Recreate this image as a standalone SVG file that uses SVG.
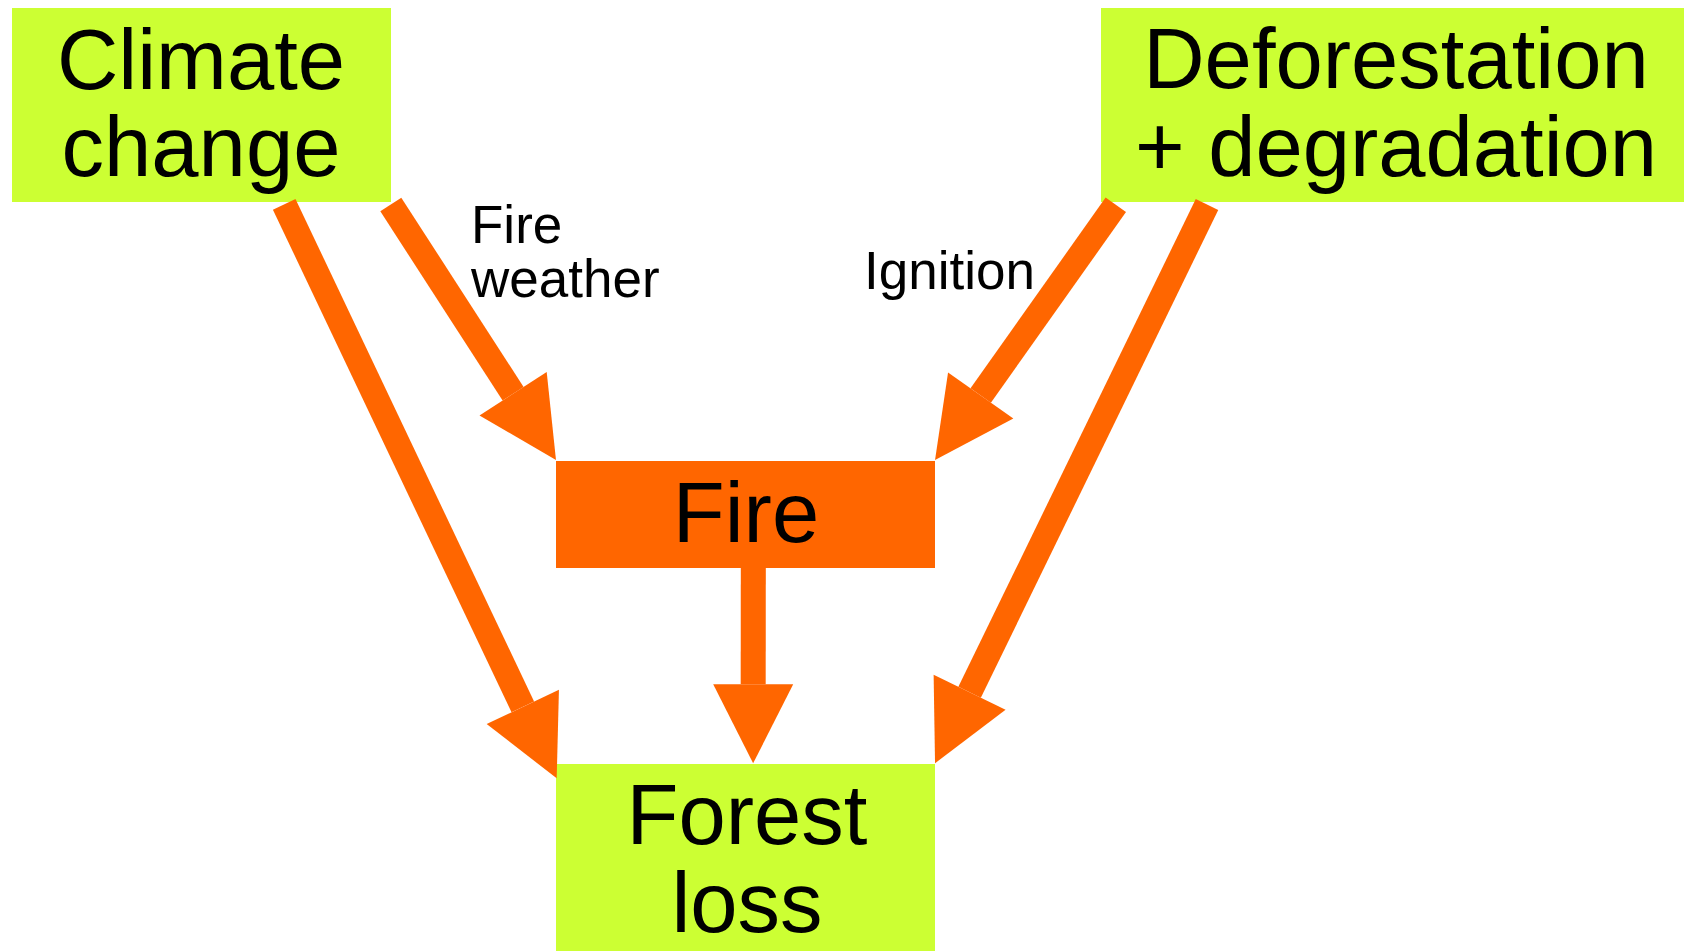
<svg xmlns="http://www.w3.org/2000/svg" width="1684" height="951" viewBox="0 0 1684 951">
<style>
.green{fill:#CCFF33}
.orange{fill:#FF6600}
.big{font-family:"Liberation Sans",Arial,sans-serif;font-size:85px;fill:#000;text-anchor:middle}
.lbl{font-family:"Liberation Sans",Arial,sans-serif;fill:#000}
.conn{stroke:#FF6600;stroke-width:25;stroke-linecap:butt;fill:none;marker-end:url(#head)}
</style>
<defs>
<marker id="head" markerUnits="userSpaceOnUse" markerWidth="79" markerHeight="80" viewBox="0 0 79 80" refX="0" refY="40" orient="auto" overflow="visible">
<path d="M0,0 L79,40 L0,80 z" fill="#FF6600"/>
</marker>
</defs>
<rect width="1684" height="951" fill="#fff"/>
<g id="climate">
<rect class="green" x="12" y="8" width="379" height="194"/>
<text class="big" x="201" y="89">Climate</text>
<text class="big" x="201" y="176">change</text>
</g>
<g id="deforestation">
<rect class="green" x="1101" y="8" width="583" height="194"/>
<text class="big" x="1396" y="88">Deforestation</text>
<text class="big" x="1396" y="176">+ degradation</text>
</g>
<g id="fire">
<rect class="orange" x="556" y="461" width="379" height="107"/>
<text class="big" x="746" y="542">Fire</text>
</g>
<g id="forestloss">
<rect class="green" x="556" y="764" width="379" height="187"/>
<text class="big" x="747" y="844">Forest</text>
<text class="big" x="747" y="932">loss</text>
</g>
<g id="connectors">
<line class="conn" x1="284.2" y1="204.3" x2="522.8" y2="706.9"/>
<line class="conn" x1="390.8" y1="204.5" x2="513.1" y2="393.7"/>
<line class="conn" x1="1115.8" y1="204.8" x2="980.7" y2="395.5"/>
<line class="conn" x1="1207" y1="204.5" x2="969.6" y2="692.3"/>
<line class="conn" x1="753.3" y1="568" x2="753.2" y2="684.3"/>
</g>
<g id="labels">
<text class="lbl" font-size="53" x="471" y="243">Fire</text>
<text class="lbl" font-size="53" x="471" y="297">weather</text>
<text class="lbl" font-size="53" x="864" y="289">Ignition</text>
</g>
</svg>
